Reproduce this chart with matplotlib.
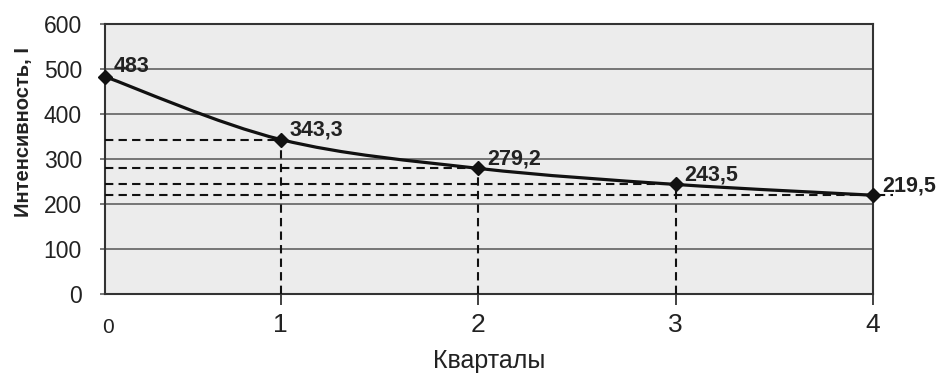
import matplotlib
matplotlib.use("Agg")
import matplotlib.pyplot as plt
from matplotlib.path import Path
from matplotlib.patches import PathPatch

plt.rcParams['font.family'] = ['Liberation Sans', 'DejaVu Sans']

quarters = [0, 1, 2, 3, 4]
intensity = [483, 343.3, 279.2, 243.5, 219.5]
labels = ["483", "343,3", "279,2", "243,5", "219,5"]
yticks = [0, 100, 200, 300, 400, 500, 600]
xlabel = "Кварталы"
ylabel = "Интенсивность, I"

X_LEFT = 0.11  # axis starts slightly right of quarter 0 (as in the original)

fig = plt.figure(figsize=(9.38, 3.74), dpi=100)
ax = fig.add_axes([105/938, 1 - 294/374, (873-105)/938, (294-24)/374])
ax.set_facecolor("#ececec")
ax.set_xlim(X_LEFT, quarters[-1])
ax.set_ylim(0, 600)

for y in yticks[1:]:
    ax.axhline(y, color="#555555", lw=1.1, zorder=1)

xs = [max(q, X_LEFT) for q in quarters]
ys = intensity
n = len(xs)

# smooth curve (Catmull-Rom as cubic Bezier), like a smoothed line
verts = [(xs[0], ys[0])]
codes = [Path.MOVETO]
for i in range(n - 1):
    p0 = (xs[max(i-1, 0)], ys[max(i-1, 0)])
    p1 = (xs[i], ys[i])
    p2 = (xs[i+1], ys[i+1])
    p3 = (xs[min(i+2, n-1)], ys[min(i+2, n-1)])
    c1 = (p1[0] + (p2[0]-p0[0])/6, p1[1] + (p2[1]-p0[1])/6)
    c2 = (p2[0] - (p3[0]-p1[0])/6, p2[1] - (p3[1]-p1[1])/6)
    verts += [c1, c2, p2]
    codes += [Path.CURVE4]*3
ax.add_patch(PathPatch(Path(verts, codes), fill=False, lw=2.3, color="#111111", zorder=4))

ax.plot(xs, ys, linestyle="none", marker="D", ms=7.5, color="#111111", zorder=5, clip_on=False)

dash = (0, (4, 2.5))
for i, (x, y) in enumerate(zip(xs, ys)):
    if i > 0:
        xe = x + 0.1 if i == n - 1 else x
        ax.plot([X_LEFT, xe], [y, y], ls=dash, color="#111111", lw=1.5, zorder=3, clip_on=False)
        if i < n - 1:
            ax.plot([x, x], [0, y], ls=dash, color="#111111", lw=1.5, zorder=3)
    ax.annotate(labels[i], (x, y), xytext=(6.5, 3), textcoords="offset points",
                ha="left", va="baseline",
                fontsize=15.5, fontweight="bold", color="#222222", zorder=6)

ax.set_yticks(yticks)
ax.set_yticklabels([str(v) for v in yticks], fontsize=16.5, color="#222222")
ax.set_xticks(xs[1:])
ax.set_xticklabels([str(q) for q in quarters[1:]], fontsize=19, color="#222222")
# the first quarter's label is smaller and sits at the axis start
ax.annotate(str(quarters[0]), (xs[0], 0), xytext=(2, -28), textcoords="offset points",
            ha="center", va="baseline", fontsize=15, color="#222222", annotation_clip=False)
ax.tick_params(axis="x", length=8, width=1.3, color="#333333", pad=6)
ax.tick_params(axis="y", length=3.6, width=1.1, color="#555555", pad=13)
for s in ax.spines.values():
    s.set_color("#333333")
    s.set_linewidth(1.5)

ax.set_xlabel(xlabel, fontsize=18, color="#222222", labelpad=8)
ax.set_ylabel(ylabel, fontsize=14.5, fontweight="bold", color="#222222")
ax.yaxis.set_label_coords(-0.094, 0.60)

fig.savefig("out.png", dpi=100)
